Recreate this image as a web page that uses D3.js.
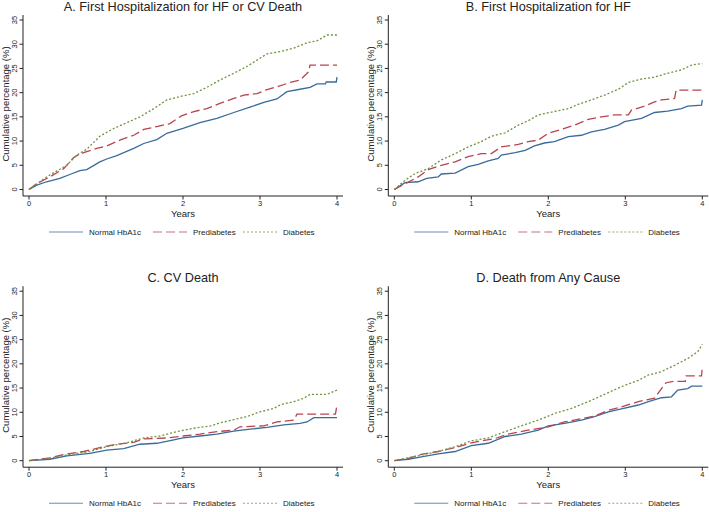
<!DOCTYPE html>
<html>
<head>
<meta charset="utf-8">
<script src="https://cdn.jsdelivr.net/npm/d3@7"></script>
<style>
body { margin: 0; background: #fff; }
svg text { font-family: "Liberation Sans", Arial, sans-serif; fill: #222; }
</style>
</head>
<body>
<svg id="chart" width="709" height="512"></svg>
<script>
// series names and styles for the legend
var groups = ["Normal HbA1c", "Prediabetes", "Diabetes"];
var colors = ["#3a6a9c", "#b8444f", "#6e9440"];
var dashes = [null, "9,4", "2,2"];
var xTicks = [0, 1, 2, 3, 4];
var yTicks = [0, 5, 10, 15, 20, 25, 30, 35];
var titles = ["A. First Hospitalization for HF or CV Death", "B. First Hospitalization for HF",
  "C. CV Death", "D. Death from Any Cause"];

// [years, cumulative %]
var aNormal = [[0,0],[0.1,0.9],[0.23,1.6],[0.4,2.3],[0.53,3.1],[0.66,3.9],[0.75,4.1],[0.92,5.7],[1.01,6.3],[1.14,7.0],[1.36,8.5],[1.49,9.5],[1.66,10.3],[1.79,11.6],[2.0,12.6],[2.22,13.8],[2.44,14.7],[2.66,15.9],[2.87,17.0],[3.05,18.0],[3.22,18.7],[3.35,20.2],[3.52,20.7],[3.65,21.1],[3.74,21.8],[3.85,21.8],[3.86,22.2],[3.99,22.2],[4.0,23.2]];
var aPre = [[0,0],[0.1,1.2],[0.27,2.6],[0.45,4.3],[0.58,6.6],[0.62,7.0],[0.71,7.6],[0.88,8.5],[1.01,9.0],[1.18,10.2],[1.36,11.2],[1.49,12.4],[1.66,13.0],[1.83,13.6],[1.98,15.2],[2.14,16.1],[2.31,16.7],[2.48,17.8],[2.66,18.8],[2.79,19.5],[2.96,19.8],[3.07,20.5],[3.22,21.2],[3.39,22.1],[3.52,22.6],[3.63,24.3],[3.65,25.7],[4.0,25.7]];
var aDia = [[0,0],[0.14,1.6],[0.27,3.0],[0.49,5.0],[0.62,7.1],[0.75,8.3],[0.92,11.0],[1.1,12.6],[1.27,13.8],[1.44,15.0],[1.62,16.7],[1.79,18.5],[1.96,19.2],[2.14,19.8],[2.31,21.1],[2.48,22.6],[2.66,24.0],[2.83,25.4],[3.0,27.1],[3.09,28.0],[3.27,28.5],[3.44,29.2],[3.61,30.3],[3.74,30.7],[3.87,31.9],[4.0,31.9]];

var bNormal = [[0,0],[0.14,1.4],[0.31,1.6],[0.42,2.3],[0.57,2.6],[0.61,3.2],[0.79,3.4],[0.96,4.7],[1.09,5.2],[1.22,5.9],[1.35,6.4],[1.39,7.1],[1.57,7.6],[1.70,8.1],[1.82,9.0],[1.95,9.6],[2.08,9.9],[2.26,10.9],[2.43,11.2],[2.56,11.9],[2.73,12.4],[2.91,13.3],[2.99,14.0],[3.21,14.7],[3.38,15.9],[3.55,16.2],[3.73,16.7],[3.81,17.2],[3.99,17.4],[4.0,18.5]];
var bPre = [[0,0],[0.14,1.2],[0.31,2.6],[0.44,4.1],[0.61,5.0],[0.79,5.7],[0.96,6.8],[1.13,7.4],[1.26,7.4],[1.39,8.8],[1.61,9.3],[1.74,9.9],[1.87,10.2],[2.0,11.6],[2.17,12.4],[2.34,13.3],[2.52,14.5],[2.69,15.0],[2.86,15.4],[3.04,15.4],[3.08,16.4],[3.25,17.2],[3.38,18.1],[3.47,18.5],[3.64,18.8],[3.66,20.5],[4.0,20.5]];
var bDia = [[0,0],[0.14,1.9],[0.27,3.3],[0.44,4.3],[0.61,6.1],[0.79,7.4],[0.96,8.8],[1.13,9.9],[1.26,11.0],[1.44,11.7],[1.61,13.3],[1.74,14.2],[1.87,15.4],[2.08,16.1],[2.26,16.7],[2.39,17.6],[2.56,18.5],[2.73,19.5],[2.91,20.7],[3.04,22.1],[3.21,22.8],[3.38,23.2],[3.55,24.0],[3.73,24.7],[3.86,25.7],[4.0,26.0]];

var cNormal = [[0,0],[0.27,0.3],[0.49,1.0],[0.79,1.5],[1.01,2.2],[1.23,2.5],[1.44,3.4],[1.66,3.6],[1.88,4.3],[2.0,4.7],[2.22,5.1],[2.44,5.5],[2.66,6.1],[2.87,6.5],[3.09,6.9],[3.31,7.4],[3.52,7.7],[3.61,8.0],[3.70,8.9],[4.0,8.9]];
var cPre = [[0,0],[0.27,0.6],[0.49,1.4],[0.71,1.9],[0.92,2.7],[1.14,3.4],[1.36,3.8],[1.49,4.5],[1.79,4.7],[2.0,5.1],[2.22,5.5],[2.44,6.0],[2.66,6.3],[2.74,7.0],[3.05,7.2],[3.22,8.0],[3.44,8.4],[3.48,9.6],[3.98,9.6],[4.0,11.6]];
var cDia = [[0,0],[0.27,0.5],[0.49,1.2],[0.79,1.9],[1.01,2.9],[1.27,3.7],[1.49,4.7],[1.7,5.1],[1.92,6.0],[2.14,6.7],[2.36,7.2],[2.48,7.8],[2.66,8.5],[2.83,9.1],[3.0,10.1],[3.18,10.8],[3.27,11.6],[3.44,12.2],[3.57,12.9],[3.65,13.7],[3.87,13.7],[4.0,14.6]];

var dNormal = [[0,0],[0.18,0.3],[0.35,0.8],[0.57,1.4],[0.79,1.9],[1.0,3.1],[1.22,3.6],[1.44,5.0],[1.65,5.5],[1.87,6.3],[2.0,7.2],[2.21,7.7],[2.43,8.4],[2.6,9.1],[2.78,10.1],[2.95,10.7],[3.17,11.5],[3.3,12.2],[3.47,13.0],[3.6,13.2],[3.68,14.6],[3.81,14.9],[3.86,15.4],[4.0,15.4]];
var dPre = [[0,0],[0.18,0.5],[0.35,1.3],[0.57,1.9],[0.79,2.7],[1.0,3.7],[1.31,4.6],[1.48,5.5],[1.74,6.3],[2.0,7.0],[2.21,8.0],[2.43,8.7],[2.6,9.2],[2.78,10.4],[2.95,11.1],[3.17,12.2],[3.38,12.9],[3.47,14.9],[3.53,16.1],[3.64,16.4],[3.78,16.4],[3.79,17.5],[3.99,17.5],[4.0,19.4]];
var dDia = [[0,0],[0.18,0.6],[0.57,1.9],[0.79,2.9],[1.0,4.1],[1.22,4.7],[1.44,6.0],[1.65,7.2],[1.87,8.4],[2.09,9.8],[2.3,10.8],[2.52,12.2],[2.73,13.7],[2.95,15.3],[3.17,16.6],[3.3,17.7],[3.47,18.4],[3.64,19.7],[3.81,21.1],[3.94,22.5],[4.0,24.0]];

var panels = [
  {title: titles[0], ox: 0, oy: 0, series: [aNormal, aPre, aDia]},
  {title: titles[1], ox: 365.3, oy: 0, series: [bNormal, bPre, bDia]},
  {title: titles[2], ox: 0, oy: 271.2, series: [cNormal, cPre, cDia]},
  {title: titles[3], ox: 365.3, oy: 271.2, series: [dNormal, dPre, dDia]}
];

var svg = d3.select("#chart");

var x = d3.scaleLinear().domain([0, 4]).range([29, 337]);
var y = d3.scaleLinear().domain([0, 35]).range([189.5, 20]);

panels.forEach(function(p) {
  var g = svg.append("g").attr("transform", "translate(" + p.ox + "," + p.oy + ")");

  g.append("text")
    .attr("x", 183).attr("y", 11)
    .attr("text-anchor", "middle")
    .style("font-size", "12.7px")
    .text(p.title);

  // axes (stata style, offset from the data)
  var xAxis = g.append("g").attr("transform", "translate(0,196)");
  xAxis.append("line").attr("x1", 23).attr("x2", 343).attr("stroke", "#222").attr("stroke-width", 1);
  xTicks.forEach(function(t) {
    xAxis.append("line").attr("x1", x(t)).attr("x2", x(t)).attr("y1", 0).attr("y2", 3.5).attr("stroke", "#222");
    xAxis.append("text").attr("x", x(t)).attr("y", 9.5).attr("text-anchor", "middle")
      .style("font-size", "7.5px").text(t);
  });
  g.append("text").attr("x", 183).attr("y", 217).attr("text-anchor", "middle")
    .style("font-size", "9.5px").text("Years");

  var yAxis = g.append("g").attr("transform", "translate(23,0)");
  yAxis.append("line").attr("y1", 15).attr("y2", 196).attr("stroke", "#222");
  yTicks.forEach(function(t) {
    yAxis.append("line").attr("x1", -3.5).attr("x2", 0).attr("y1", y(t)).attr("y2", y(t)).attr("stroke", "#222");
    yAxis.append("text")
      .attr("transform", "translate(-6," + y(t) + ") rotate(-90)")
      .attr("text-anchor", "middle")
      .style("font-size", "7.5px").text(t);
  });
  g.append("text")
    .attr("transform", "translate(9,104) rotate(-90)")
    .attr("text-anchor", "middle")
    .style("font-size", "9.5px").text("Cumulative percentage (%)");

  var line = d3.line().x(function(d) { return x(d[0]); }).y(function(d) { return y(d[1]); });
  p.series.forEach(function(s, i) {
    g.append("path").datum(s)
      .attr("d", line)
      .attr("fill", "none")
      .attr("stroke", colors[i])
      .attr("stroke-width", 1.3)
      .attr("stroke-dasharray", dashes[i]);
  });

  // legend
  var legX = [49, 153, 243];
  groups.forEach(function(name, i) {
    g.append("line").attr("x1", legX[i]).attr("x2", legX[i] + 34)
      .attr("y1", 232).attr("y2", 232)
      .attr("stroke", colors[i]).attr("stroke-width", 1.1).attr("opacity", 0.75)
      .attr("stroke-dasharray", dashes[i]);
    g.append("text").attr("x", legX[i] + 40).attr("y", 235)
      .style("font-size", "8px").text(name);
  });
});
</script>
</body>
</html>
